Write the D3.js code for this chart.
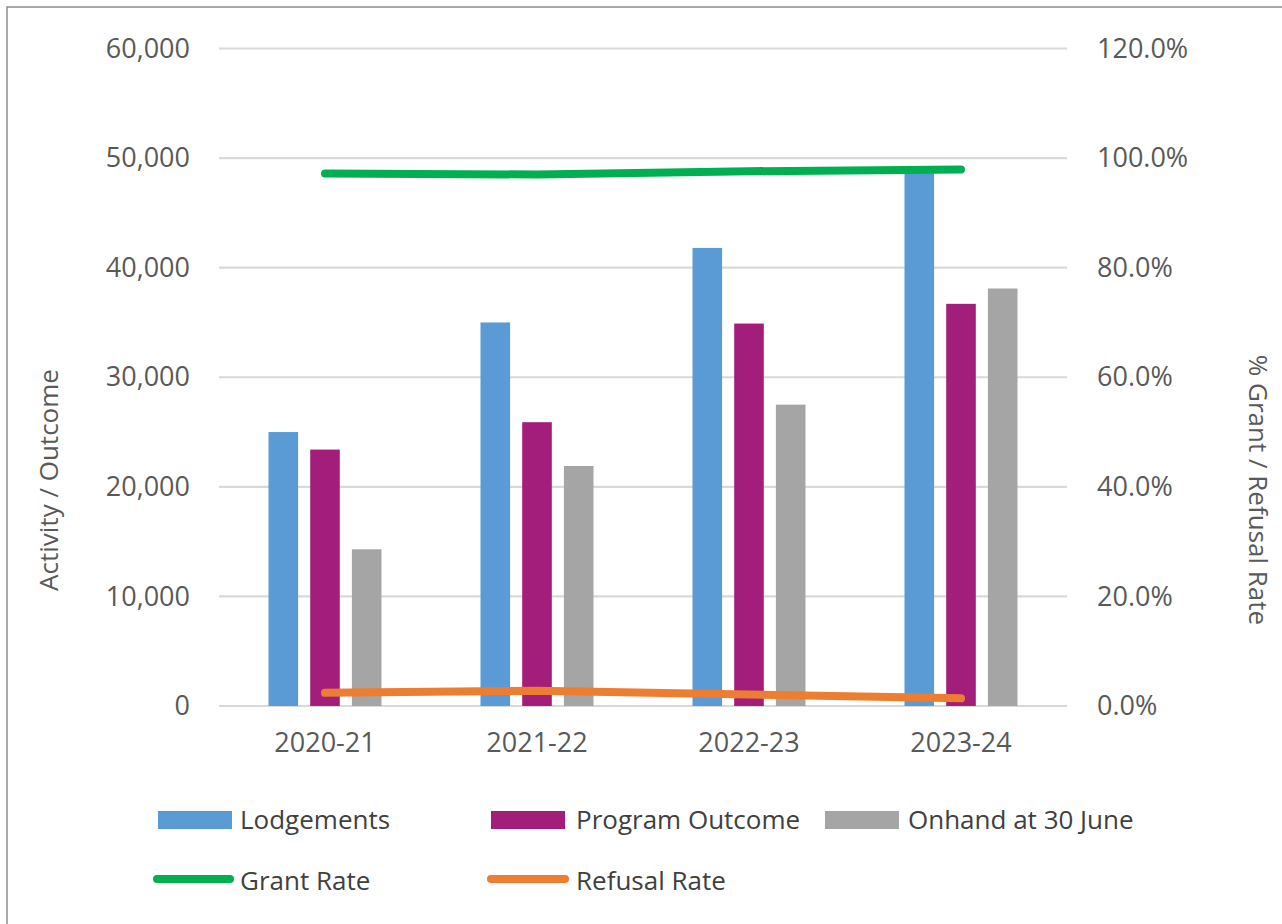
<!DOCTYPE html>
<html>
<head>
<meta charset="utf-8">
<script src="https://cdn.jsdelivr.net/npm/d3@7"></script>
<style>
  body { margin: 0; background: #fff; }
  svg { display: block; font-family: "Open Sans", sans-serif; }
</style>
</head>
<body>
<svg id="chart" width="1282" height="924"></svg>
<script>
// data
const years = ["2020-21", "2021-22", "2022-23", "2023-24"];
const seriesNames = ["Lodgements", "Program Outcome", "Onhand at 30 June"];
const lodgements = [25000, 35000, 41800, 49000];
const programOutcome = [23400, 25900, 34900, 36700];
const onhand = [14300, 21900, 27500, 38100];
const grantRate = [0.972, 0.970, 0.976, 0.979];
const refusalRate = [0.024, 0.028, 0.021, 0.014];
const leftTicks = [0, 10000, 20000, 30000, 40000, 50000, 60000];
const rightTicks = [0, 0.2, 0.4, 0.6, 0.8, 1.0, 1.2];

const barColors = ["#5B9BD5", "#A31E7A", "#A5A5A5"];
const grantColor = "#00B050";
const refusalColor = "#ED7D31";
const textColor = "#595959";

const svg = d3.select("#chart");

// frame
svg.append("rect")
    .attr("x", 7).attr("y", 7)
    .attr("width", 1300).attr("height", 1000)
    .attr("fill", "none")
    .attr("stroke", "#8c8c8c")
    .attr("stroke-width", 1.5);

// scales
const x = d3.scaleBand().domain(years).range([219, 1067]).padding(0);
const xSub = d3.scaleBand().domain(seriesNames)
    .range([x.bandwidth() / 2 - 56.5, x.bandwidth() / 2 + 56.5])
    .paddingInner(0.29);
const yLeft = d3.scaleLinear().domain([0, 60000]).range([706, 48.5]);
const yRight = d3.scaleLinear().domain([0, 1.2]).range([706, 48.5]);

// gridlines
svg.append("g")
    .selectAll("line")
    .data(leftTicks)
    .enter().append("line")
    .attr("x1", 219).attr("x2", 1067)
    .attr("y1", d => yLeft(d)).attr("y2", d => yLeft(d))
    .attr("stroke", "#d9d9d9")
    .attr("stroke-width", 2.2);

// helper: strip d3 axis defaults so the page font applies
function styleAxis(g) {
    g.attr("font-family", null).attr("font-size", null);
    g.select(".domain").remove();
    g.selectAll("text")
        .style("font-size", "27px")
        .style("fill", textColor);
}

// left axis
svg.append("g")
    .attr("transform", "translate(190,0)")
    .call(d3.axisLeft(yLeft).tickValues(leftTicks).tickSize(0).tickPadding(0).tickFormat(d3.format(",")))
    .call(styleAxis);

// right axis
svg.append("g")
    .attr("transform", "translate(1097,0)")
    .call(d3.axisRight(yRight).tickValues(rightTicks).tickSize(0).tickPadding(0).tickFormat(d3.format(".1%")))
    .call(styleAxis);

// bottom axis labels
svg.append("g")
    .attr("transform", "translate(0,733)")
    .call(d3.axisBottom(x).tickSize(0).tickPadding(0))
    .call(styleAxis);

// axis titles
svg.append("text")
    .attr("transform", "translate(58,480) rotate(-90)")
    .attr("text-anchor", "middle")
    .style("font-size", "26px")
    .style("fill", textColor)
    .text("Activity / Outcome");

svg.append("text")
    .attr("transform", "translate(1249,490) rotate(90)")
    .attr("text-anchor", "middle")
    .style("font-size", "26px")
    .style("fill", textColor)
    .text("% Grant / Refusal Rate");

// bars
const barData = years.map((yr, i) => ({
    year: yr,
    values: [lodgements[i], programOutcome[i], onhand[i]].map((v, j) => ({ key: seriesNames[j], value: v, color: barColors[j] }))
}));

svg.append("g")
    .selectAll("g")
    .data(barData)
    .enter().append("g")
    .attr("transform", d => `translate(${x(d.year)},0)`)
    .selectAll("rect")
    .data(d => d.values)
    .enter().append("rect")
    .attr("x", d => xSub(d.key))
    .attr("y", d => yLeft(d.value))
    .attr("width", xSub.bandwidth())
    .attr("height", d => yLeft(0) - yLeft(d.value))
    .attr("fill", d => d.color);

// lines
const line = d3.line()
    .x((d, i) => x(years[i]) + x.bandwidth() / 2)
    .y(d => yRight(d));

svg.append("path")
    .datum(grantRate)
    .attr("d", line)
    .attr("fill", "none")
    .attr("stroke", grantColor)
    .attr("stroke-width", 8)
    .attr("stroke-linecap", "round")
    .attr("stroke-linejoin", "round");

svg.append("path")
    .datum(refusalRate)
    .attr("d", line)
    .attr("fill", "none")
    .attr("stroke", refusalColor)
    .attr("stroke-width", 8)
    .attr("stroke-linecap", "round")
    .attr("stroke-linejoin", "round");

// legend
const legendBars = [
    { name: seriesNames[0], color: barColors[0], x: 158, textX: 240 },
    { name: seriesNames[1], color: barColors[1], x: 491, textX: 576 },
    { name: seriesNames[2], color: barColors[2], x: 825, textX: 908 }
];
const legendLines = [
    { name: "Grant Rate", color: grantColor, x1: 157, x2: 230, textX: 240 },
    { name: "Refusal Rate", color: refusalColor, x1: 491, x2: 565, textX: 576 }
];

const lg = svg.append("g");
lg.selectAll("rect")
    .data(legendBars)
    .enter().append("rect")
    .attr("x", d => d.x)
    .attr("y", 811)
    .attr("width", 74)
    .attr("height", 18)
    .attr("fill", d => d.color);

lg.selectAll("text.bar-lbl")
    .data(legendBars)
    .enter().append("text")
    .attr("class", "bar-lbl")
    .attr("x", d => d.textX)
    .attr("y", 829)
    .style("font-size", "26px")
    .style("fill", "#404040")
    .text(d => d.name);

lg.selectAll("line")
    .data(legendLines)
    .enter().append("line")
    .attr("x1", d => d.x1).attr("x2", d => d.x2)
    .attr("y1", 879).attr("y2", 879)
    .attr("stroke", d => d.color)
    .attr("stroke-width", 8)
    .attr("stroke-linecap", "round");

lg.selectAll("text.line-lbl")
    .data(legendLines)
    .enter().append("text")
    .attr("class", "line-lbl")
    .attr("x", d => d.textX)
    .attr("y", 890)
    .style("font-size", "26px")
    .style("fill", "#404040")
    .text(d => d.name);
</script>
</body>
</html>
